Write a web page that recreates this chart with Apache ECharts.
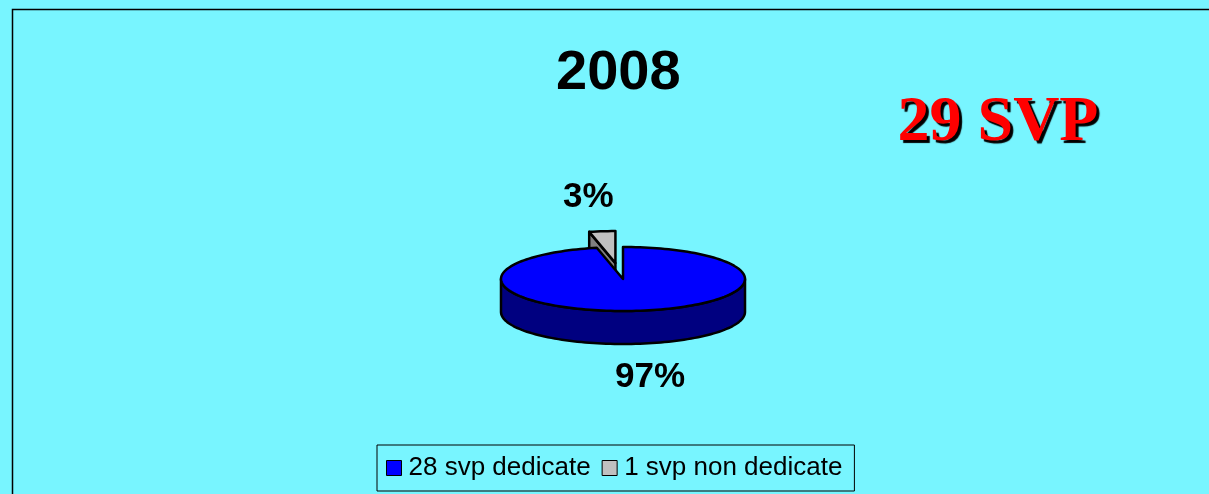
<!DOCTYPE html>
<html>
<head>
<meta charset="utf-8">
<title>2008 - 29 SVP</title>
<script src="https://cdn.jsdelivr.net/npm/echarts@6/dist/echarts.min.js"></script>
<style>
  html, body { margin: 0; padding: 0; background: #78F5FF; }
  #chart { width: 1209px; height: 494px; }
</style>
</head>
<body>
<div id="chart"></div>
<script>
// dati del grafico
var categories = ['28 svp dedicate', '1 svp non dedicate'];
var values = [28, 1];
var exploded = [false, true];
var colors = ['#0000FF', '#C0C0C0'];
var sideColors = ['#000080', '#808080'];

// geometria della torta 3D (pixel)
var PIE = { cx: 623, cy: 279, rx: 122, ry: 32, depth: 33, explodeX: 70, explodeY: 16, labelRX: 250, labelRY: 66 };

var total = values.reduce(function (a, b) { return a + b; }, 0);

function pt(t, dz, ox, oy) {
  var r = t * Math.PI / 180;
  return [PIE.cx + ox + PIE.rx * Math.cos(r), PIE.cy + oy - PIE.ry * Math.sin(r) + dz];
}

function arc(t0, t1, dz, ox, oy) {
  var n = Math.max(2, Math.ceil(Math.abs(t1 - t0) / 2));
  var pts = [];
  for (var k = 0; k <= n; k++) {
    pts.push(pt(t0 + (t1 - t0) * k / n, dz, ox, oy));
  }
  return pts;
}

function makeRender(i) {
  return function (params, api) {
    var v = api.value(0);
    var before = 0;
    for (var j = 0; j < i; j++) before += values[j];
    // senso orario partendo dalle ore 12, come Excel
    var t1 = 90 - 360 * before / total;
    var t0 = 90 - 360 * (before + v) / total;
    var mid = (t0 + t1) / 2 * Math.PI / 180;
    var ox = exploded[i] ? PIE.explodeX * Math.cos(mid) : 0;
    var oy = exploded[i] ? -PIE.explodeY * Math.sin(mid) : 0;
    var D = PIE.depth;
    var c = [PIE.cx + ox, PIE.cy + oy];
    var cb = [c[0], c[1] + D];
    var line = { stroke: '#000', lineWidth: 2.5, lineJoin: 'round' };
    var children = [];

    // facce di taglio visibili
    var faces = [
      [t0, Math.cos(t0 * Math.PI / 180) > 0.01],
      [t1, Math.cos(t1 * Math.PI / 180) < -0.01]
    ];
    faces.forEach(function (f) {
      if (!f[1]) return;
      children.push({
        type: 'polygon',
        shape: { points: [c, pt(f[0], 0, ox, oy), pt(f[0], D, ox, oy), cb] },
        style: Object.assign({ fill: sideColors[i] }, line)
      });
    });

    // parete esterna frontale
    for (var k = -2; k <= 1; k++) {
      var a = Math.max(t0, 180 + 360 * k);
      var b = Math.min(t1, 360 + 360 * k);
      if (b > a) {
        children.push({
          type: 'polygon',
          shape: { points: arc(a, b, 0, ox, oy).concat(arc(b, a, D, ox, oy)) },
          style: Object.assign({ fill: sideColors[i] }, line)
        });
      }
    }

    // faccia superiore
    children.push({
      type: 'polygon',
      shape: { points: [c].concat(arc(t0, t1, 0, ox, oy)) },
      style: Object.assign({ fill: colors[i] }, line)
    });

    // etichetta percentuale
    var lx = c[0] + PIE.labelRX * Math.cos(mid);
    var ly = c[1] - PIE.labelRY * Math.sin(mid) + (Math.sin(mid) < 0 ? D : 0);
    children.push({
      type: 'text',
      style: {
        text: Math.round(v / total * 100) + '%',
        x: lx, y: ly,
        align: 'center', verticalAlign: 'middle',
        fontFamily: '"Liberation Sans", Arial, sans-serif',
        fontWeight: 'bold', fontSize: 35, fill: '#000'
      }
    });

    return { type: 'group', children: children };
  };
}

var series = categories.map(function (name, i) {
  return {
    name: name,
    type: 'custom',
    coordinateSystem: 'none',
    z: i === 0 ? 3 : 2,
    itemStyle: { color: colors[i] },
    data: [[values[i]]],
    renderItem: makeRender(i)
  };
});

var myChart = echarts.init(document.getElementById('chart'));
var option = {
  backgroundColor: '#78F5FF',
  animation: false,
  title: {
    text: '2008',
    left: 556,
    top: 46,
    padding: 0,
    textStyle: {
      fontFamily: '"Liberation Sans", Arial, sans-serif',
      fontWeight: 'bold',
      fontSize: 56,
      color: '#000'
    }
  },
  legend: {
    data: categories,
    left: 377,
    top: 445,
    icon: 'rect',
    itemWidth: 15,
    itemHeight: 15,
    itemGap: 11,
    padding: [10, 12, 10, 9],
    borderColor: '#000',
    borderWidth: 1,
    itemStyle: { borderColor: '#000', borderWidth: 1 },
    textStyle: {
      fontFamily: '"Liberation Sans", Arial, sans-serif',
      fontSize: 26,
      color: '#000',
      padding: [0, 0, 0, 2]
    }
  },
  graphic: [
    {
      type: 'rect',
      silent: true,
      z: 0,
      shape: { x: 12.5, y: 9.5, width: 1300, height: 600 },
      style: { fill: 'none', stroke: '#000', lineWidth: 1.5 }
    },
    {
      type: 'text',
      x: 998,
      y: 123,
      style: {
        text: '29 SVP',
        align: 'center',
        verticalAlign: 'middle',
        fontFamily: '"Liberation Serif", "Times New Roman", serif',
        fontWeight: 'bold',
        fontSize: 64,
        fill: '#FF0000',
        textShadowColor: '#000',
        textShadowOffsetX: 3,
        textShadowOffsetY: 3,
        textShadowBlur: 1
      }
    }
  ],
  series: series
};
myChart.setOption(option);
</script>
</body>
</html>
